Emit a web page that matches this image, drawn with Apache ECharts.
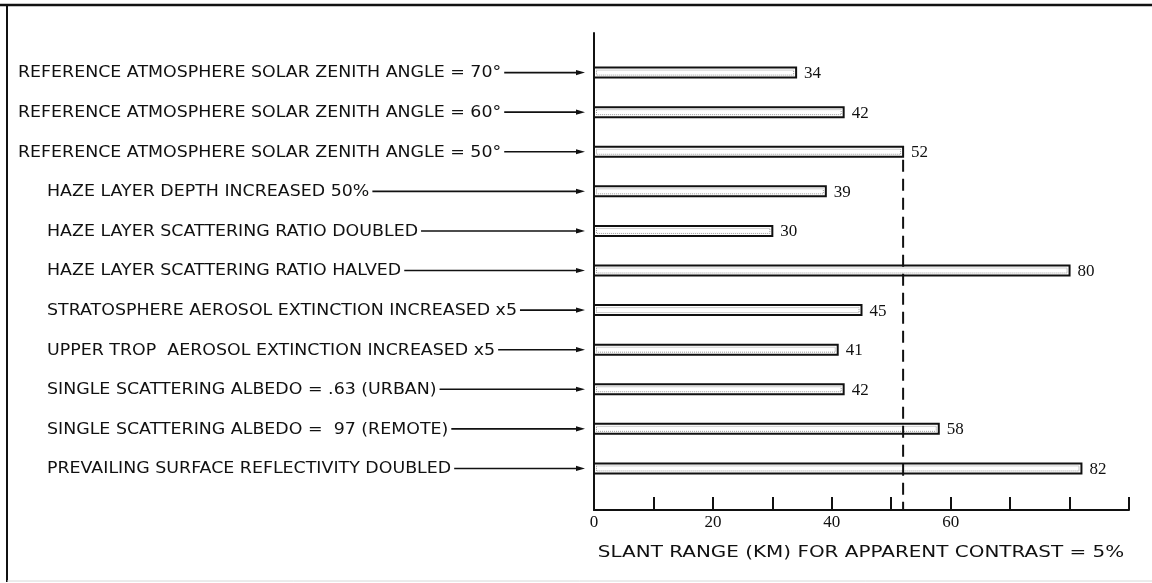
<!DOCTYPE html>
<html><head><meta charset="utf-8">
<script src="https://cdn.jsdelivr.net/npm/echarts@6/dist/echarts.min.js"></script>
<style>html,body{margin:0;padding:0;background:#fff}#c{width:1152px;height:583px}</style>
</head><body><div id="c"></div>
<script>
// ---- data ----
const categories = [
  'REFERENCE ATMOSPHERE SOLAR ZENITH ANGLE = 70°',
  'REFERENCE ATMOSPHERE SOLAR ZENITH ANGLE = 60°',
  'REFERENCE ATMOSPHERE SOLAR ZENITH ANGLE = 50°',
  'HAZE LAYER DEPTH INCREASED 50%',
  'HAZE LAYER SCATTERING RATIO DOUBLED',
  'HAZE LAYER SCATTERING RATIO HALVED',
  'STRATOSPHERE AEROSOL EXTINCTION INCREASED x5',
  'UPPER TROP  AEROSOL EXTINCTION INCREASED x5',
  'SINGLE SCATTERING ALBEDO = .63 (URBAN)',
  'SINGLE SCATTERING ALBEDO =  97 (REMOTE)',
  'PREVAILING SURFACE REFLECTIVITY DOUBLED'
];
const slantRange = [34, 42, 52, 39, 30, 80, 45, 41, 42, 58, 82];
const referenceValue = 52;
const xTickLabels = ['0', '20', '40', '60'];
const axisTitle = 'SLANT RANGE (KM) FOR APPARENT CONTRAST = 5%';

// ---- rendering ----
const INK = '#111';
const LABEL_FONT = '15px "DejaVu Sans"';
const LABEL_STRETCH = 1.16;
const NUM_FONT = '17px "Liberation Serif"';
const mctx = document.createElement('canvas').getContext('2d');
function textWidth(s, font) { mctx.font = font; return mctx.measureText(s).width; }
const refGroupSize = 3; // first rows (reference atmosphere) are set further left

const chart = echarts.init(document.getElementById('c'), null, { renderer: 'canvas' });

const option = {
  backgroundColor: '#fff',
  animation: false,
  grid: { left: 594, right: 23, top: 33, bottom: 73 },
  xAxis: {
    type: 'value', min: 0, max: 90, interval: 10, position: 'bottom',
    axisLine: { show: true, onZero: false, lineStyle: { color: INK, width: 2 } },
    axisTick: { show: true, inside: true, length: 13, lineStyle: { color: INK, width: 2 } },
    splitLine: { show: false },
    axisLabel: {
      color: INK, fontFamily: 'Liberation Serif', fontSize: 17, margin: 4,
      formatter: v => (xTickLabels.includes(String(v)) ? String(v) : '')
    }
  },
  yAxis: {
    type: 'value', inverse: true, min: -1, max: 11.05,
    axisLine: { show: true, onZero: false, lineStyle: { color: INK, width: 2 } },
    axisTick: { show: false }, axisLabel: { show: false }, splitLine: { show: false }
  },
  graphic: [
    { type: 'line', shape: { x1: 0, y1: 5, x2: 1152, y2: 5 }, style: { stroke: INK, lineWidth: 2.5 }, z: 10 },
    { type: 'line', shape: { x1: 7, y1: 5, x2: 7, y2: 582 }, style: { stroke: INK, lineWidth: 2 }, z: 10 },
    { type: 'line', shape: { x1: 7, y1: 581, x2: 1152, y2: 581 }, style: { stroke: '#d8d8d8', lineWidth: 1 }, z: 10 },
    { type: 'text', x: 861, y: 553, scaleX: 1.33, z: 10,
      style: { text: axisTitle, font: '15px "DejaVu Sans"', fill: INK, align: 'center', verticalAlign: 'middle' } }
  ],
  series: [
    {
      name: 'bars', type: 'custom', clip: false, z: 3,
      encode: { x: 0, y: 1 },
      data: slantRange.map((v, i) => [v, i]),
      renderItem: (params, api) => {
        const v = api.value(0), i = api.value(1);
        const s = api.coord([0, i]), e = api.coord([v, i]);
        const h = 10;
        return {
          type: 'group',
          children: [
            { type: 'rect', shape: { x: s[0], y: s[1] - h / 2, width: e[0] - s[0], height: h },
              style: { fill: '#fff', stroke: INK, lineWidth: 2 } },
            { type: 'rect', shape: { x: s[0] + 2.5, y: s[1] - h / 2 + 2.5, width: e[0] - s[0] - 5, height: h - 5 },
              style: { fill: 'none', stroke: '#9a9a9a', lineWidth: 1, lineDash: [1, 1] } },
            { type: 'text', x: e[0] + 8, y: s[1] + 1,
              style: { text: String(v), font: NUM_FONT, fill: INK, verticalAlign: 'middle', align: 'left' } }
          ]
        };
      }
    },
    {
      name: 'labels', type: 'custom', clip: false, z: 3,
      encode: { x: 0, y: 1 },
      data: categories.map((c, i) => [0, i]),
      renderItem: (params, api) => {
        const i = api.value(1);
        const p = api.coord([0, i]);
        const txt = categories[params.dataIndex];
        const left = params.dataIndex < refGroupSize ? 18 : 47;
        const w = textWidth(txt, LABEL_FONT) * LABEL_STRETCH;
        const tipX = p[0] - 9;
        return {
          type: 'group',
          children: [
            { type: 'text', x: left, y: p[1] + 1, scaleX: LABEL_STRETCH,
              style: { text: txt, font: LABEL_FONT, fill: INK, verticalAlign: 'middle', align: 'left' } },
            { type: 'line', shape: { x1: left + w + 3, y1: p[1], x2: tipX - 6, y2: p[1] },
              style: { stroke: INK, lineWidth: 1.6 } },
            { type: 'polygon', shape: { points: [[tipX, p[1]], [tipX - 9, p[1] - 2.6], [tipX - 9, p[1] + 2.6]] },
              style: { fill: INK } }
          ]
        };
      }
    },
    {
      name: 'reference', type: 'line', z: 5, symbol: 'none', silent: true,
      data: [[referenceValue, slantRange.indexOf(referenceValue) + 0.2], [referenceValue, 11.05]],
      lineStyle: { color: INK, width: 2, type: [12, 7] }
    }
  ]
};
chart.setOption(option);
</script></body></html>
